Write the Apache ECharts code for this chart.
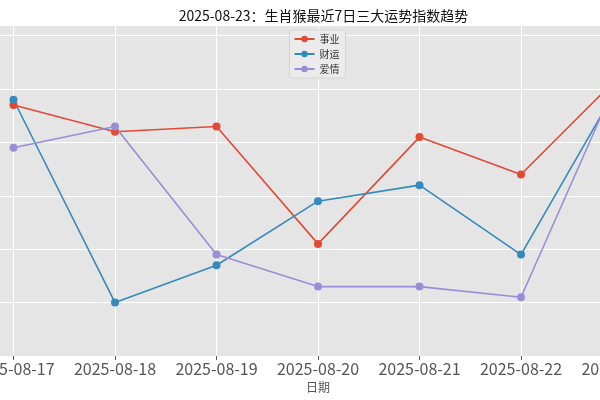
<!DOCTYPE html>
<html>
<head>
<meta charset="utf-8">
<script src="https://cdn.jsdelivr.net/npm/echarts@6/dist/echarts.min.js"></script>
<style>
  html, body { margin: 0; padding: 0; background: #fff; overflow: hidden; width: 600px; height: 400px; position: relative; }
  /* 绘图区比窗口宽，左右两侧被裁掉 */
  #main { position: absolute; left: -88.5px; top: 0; width: 812px; height: 400px; }
</style>
</head>
<body>
<div id="main"></div>
<script>
// 日期
var dates = ['2025-08-17', '2025-08-18', '2025-08-19', '2025-08-20', '2025-08-21', '2025-08-22', '2025-08-23'];
// 三大运势指数
var career = [77, 72, 73, 51, 71, 64, 83];   // 事业
var wealth = [78, 40, 47, 59, 62, 49, 82];   // 财运
var love   = [69, 73, 49, 43, 43, 41, 84];   // 爱情

function pairs(arr) {
    return arr.map(function (v, i) { return [i, v]; });
}

var font = '"Noto Sans CJK SC", sans-serif';
var offset = 88.5;
var chart = echarts.init(document.getElementById('main'));

function line(name, data, color) {
    return {
        name: name,
        type: 'line',
        data: pairs(data),
        symbol: 'circle',
        symbolSize: 8,
        color: color,
        lineStyle: { width: 1.6, color: color },
        itemStyle: { color: color },
        animation: false
    };
}

var option = {
    backgroundColor: '#fff',
    title: {
        text: '2025-08-23：生肖猴最近7日三大运势指数趋势',
        left: 318 + offset,
        textAlign: 'center',
        top: 4,
        textStyle: { fontFamily: font, fontSize: 14, fontWeight: 'normal', color: '#111' }
    },
    legend: {
        data: ['事业', '财运', '爱情'],
        orient: 'vertical',
        left: 289 + offset,
        top: 30,
        itemWidth: 20,
        itemHeight: 8,
        itemGap: 5,
        padding: [4, 6, 4, 4],
        backgroundColor: '#EBEBEB',
        borderColor: '#D5D5D5',
        borderWidth: 1,
        borderRadius: 3,
        textStyle: { fontFamily: font, fontSize: 10, color: '#333' }
    },
    grid: {
        left: 0,
        right: 0,
        top: 25,
        bottom: 44,
        outerBoundsMode: 'none',
        show: true,
        backgroundColor: '#E5E5E5',
        borderWidth: 0
    },
    xAxis: {
        type: 'value',
        min: -1,
        max: 7,
        interval: 1,
        name: '日期',
        nameLocation: 'middle',
        nameGap: 25,
        nameTextStyle: { fontFamily: font, fontSize: 12, color: '#555' },
        axisLine: { show: false },
        axisTick: { show: true, length: 4, lineStyle: { color: '#555' } },
        axisLabel: {
            fontFamily: font,
            fontSize: 16,
            color: '#555',
            margin: 5,
            formatter: function (v) { return dates[v] || ''; }
        },
        splitLine: { show: true, lineStyle: { color: '#fff', width: 1 } }
    },
    yAxis: {
        type: 'value',
        min: 30,
        max: 92,
        interval: 10,
        axisLine: { show: false },
        axisTick: { show: false },
        axisLabel: { show: false },
        splitLine: { show: true, lineStyle: { color: '#fff', width: 1 } }
    },
    series: [
        line('事业', career, '#E24A33'),
        line('财运', wealth, '#348ABD'),
        line('爱情', love, '#988ED5')
    ]
};
chart.setOption(option);
</script>
</body>
</html>
